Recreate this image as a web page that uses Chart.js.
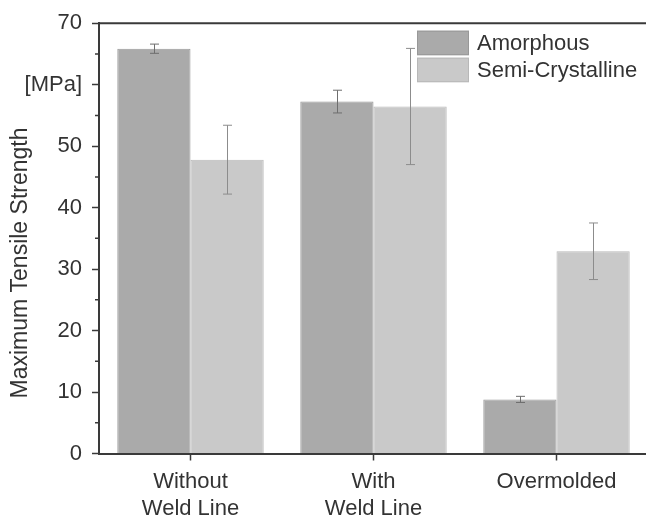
<!DOCTYPE html>
<html>
<head>
<meta charset="utf-8">
<script src="https://cdn.jsdelivr.net/npm/chart.js@4/dist/chart.umd.min.js"></script>
<style>
  html, body { margin: 0; padding: 0; background: #fff; overflow: hidden; }
  #wrap { width: 646px; height: 517px; overflow: hidden; position: relative; }
</style>
</head>
<body>
<div id="wrap"><canvas id="c" width="660" height="517"></canvas></div>
<script>
// Specimen groups and the two polymer types
const categories = [['Without', 'Weld Line'], ['With', 'Weld Line'], 'Overmolded'];
const seriesNames = ['Amorphous', 'Semi-Crystalline'];

// Maximum tensile strength in MPa, with standard deviation
const amorphous = [65.85, 57.25, 8.8];
const amorphousErr = [0.75, 1.85, 0.5];
const semiCrystalline = [47.8, 56.45, 32.9];
const semiCrystallineErr = [5.6, 9.45, 4.6];

// Value axis
const yTicks = [0, 10, 20, 30, 40, 50, 60, 70];
const yMinorTicks = [5, 15, 25, 35, 45, 55, 65];
const yUnitLabel = '[MPa]';
const yUnitAt = 60;
const yTitle = 'Maximum Tensile Strength';

const FONT = "'Liberation Sans', Arial, sans-serif";
const INK = '#333333';
const AXIS = '#3a3a3a';

const errorBars = {
  id: 'errorBars',
  afterDatasetsDraw(chart) {
    const ctx = chart.ctx;
    const y = chart.scales.y;
    chart.data.datasets.forEach((ds, di) => {
      const meta = chart.getDatasetMeta(di);
      ctx.save();
      ctx.strokeStyle = ds.errorColor;
      ctx.lineWidth = 1;
      meta.data.forEach((bar, i) => {
        const v = ds.data[i], e = ds.errors[i];
        const x = Math.round(bar.x) + 0.5;
        const yt = y.getPixelForValue(v + e);
        const yb = y.getPixelForValue(v - e);
        ctx.beginPath();
        ctx.moveTo(x, yt); ctx.lineTo(x, yb);
        ctx.moveTo(x - 4.5, yt); ctx.lineTo(x + 4.5, yt);
        ctx.moveTo(x - 4.5, yb); ctx.lineTo(x + 4.5, yb);
        ctx.stroke();
      });
      ctx.restore();
    });
  }
};

const frame = {
  id: 'frame',
  afterDraw(chart) {
    const ctx = chart.ctx;
    const a = chart.chartArea;
    const y = chart.scales.y;
    ctx.save();
    // top edge of the plot box
    ctx.strokeStyle = AXIS;
    ctx.lineWidth = 2;
    ctx.beginPath();
    ctx.moveTo(a.left - 1, a.top);
    ctx.lineTo(a.right, a.top);
    ctx.stroke();
    // minor ticks on the value axis
    ctx.lineWidth = 1.5;
    ctx.beginPath();
    yMinorTicks.forEach(v => {
      const py = y.getPixelForValue(v);
      ctx.moveTo(a.left - 4, py);
      ctx.lineTo(a.left, py);
    });
    ctx.stroke();
    // rotated axis title
    ctx.fillStyle = INK;
    ctx.font = '23px ' + FONT;
    ctx.textAlign = 'center';
    ctx.textBaseline = 'middle';
    ctx.translate(21, 263);
    ctx.rotate(-Math.PI / 2);
    ctx.fillText(yTitle, 0, 0);
    ctx.restore();

    // legend in the upper right of the plot
    ctx.save();
    const lx = a.left + 318, ly = a.top + 7.5;
    chart.data.datasets.forEach((ds, i) => {
      const by = ly + i * 27;
      ctx.fillStyle = ds.backgroundColor;
      ctx.fillRect(lx, by, 52, 24.5);
      ctx.strokeStyle = ds.borderColor;
      ctx.lineWidth = 1;
      ctx.strokeRect(lx + 0.5, by + 0.5, 51, 23.5);
      ctx.fillStyle = INK;
      ctx.font = '22px ' + FONT;
      ctx.textAlign = 'left';
      ctx.textBaseline = 'middle';
      ctx.fillText(ds.label, lx + 60, by + 13);
    });
    ctx.restore();
  }
};

new Chart(document.getElementById('c'), {
  type: 'bar',
  data: {
    labels: categories,
    datasets: [
      {
        label: seriesNames[0],
        data: amorphous,
        errors: amorphousErr,
        backgroundColor: '#aaaaaa',
        borderColor: '#989898',
        errorColor: '#6e6e6e',
        borderWidth: 1,
        barPercentage: 1,
        categoryPercentage: 0.8
      },
      {
        label: seriesNames[1],
        data: semiCrystalline,
        errors: semiCrystallineErr,
        backgroundColor: '#c9c9c9',
        borderColor: '#b8b8b8',
        errorColor: '#8c8c8c',
        borderWidth: 1,
        barPercentage: 1,
        categoryPercentage: 0.8
      }
    ]
  },
  options: {
    responsive: false,
    animation: false,
    layout: { padding: { top: 18, right: 12, left: 0, bottom: 0 } },
    plugins: { legend: { display: false }, tooltip: { enabled: false } },
    scales: {
      x: {
        afterFit(s) { s.height = 63.5; },
        grid: { display: true, drawOnChartArea: false, offset: false, tickLength: 7, tickColor: AXIS, tickWidth: 1.5 },
        border: { color: AXIS, width: 2 },
        ticks: { color: INK, font: { family: FONT, size: 22, lineHeight: 1.22 }, padding: 8, maxRotation: 0 }
      },
      y: {
        min: 0, max: 70,
        afterFit(s) { s.width = 99; },
        afterBuildTicks(s) { s.ticks = yTicks.map(v => ({ value: v })); },
        grid: { display: true, drawOnChartArea: false, tickLength: 7, tickColor: AXIS, tickWidth: 1.5 },
        border: { color: AXIS, width: 2 },
        ticks: {
          color: INK,
          font: { family: FONT, size: 22 },
          padding: 10,
          callback: v => (v === yUnitAt ? yUnitLabel : String(v))
        }
      }
    }
  },
  plugins: [errorBars, frame]
});
</script>
</body>
</html>
